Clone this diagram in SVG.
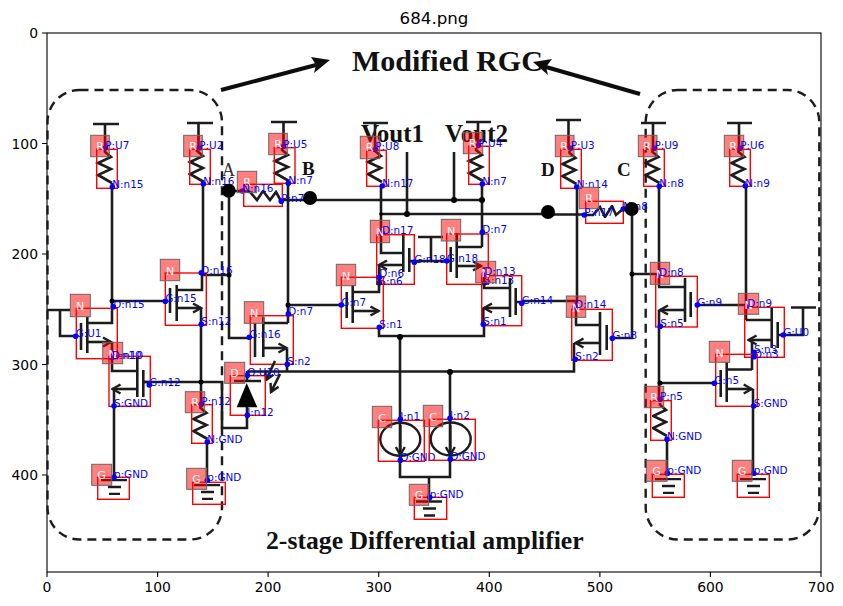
<svg xmlns="http://www.w3.org/2000/svg" width="843" height="606" viewBox="0 0 843 606">
<style>
.w path,.a path{fill:none;stroke:#1c1c1c;stroke-width:2.6}
.a .f{fill:#000;stroke:none}
.a .v{marker-end:url(#ah)}
.b{fill:none;stroke:#f00;stroke-width:1.4}
.s{fill:#f00;fill-opacity:.5;stroke:#666;stroke-width:1}
.l{font:11px "DejaVu Sans",sans-serif;fill:#fff;text-anchor:middle}
.t{font:10.4px "DejaVu Sans",sans-serif;fill:#00f}
.d{fill:#00f}
.tk{font:13.9px "DejaVu Sans",sans-serif;fill:#000}
.ser{font-family:"Liberation Serif",serif;font-weight:bold;fill:#111}
</style>
<defs>
<filter id="bl" x="-5%" y="-5%" width="110%" height="110%"><feGaussianBlur stdDeviation="0.45"/></filter>
<marker id="ah" markerUnits="userSpaceOnUse" viewBox="-10 -6 12 12" refX="0" refY="0" markerWidth="12" markerHeight="12" orient="auto"><path d="M-8,-4.5L0,0L-8,4.5" fill="none" stroke="#1c1c1c" stroke-width="2.4"/></marker>
<path id="zig" d="M0,0V2L6,7L-7,13L6,19L-7,25L7,33"/>
<path id="gnd" d="M-13,0H13M-6,7H7M-5,14H6"/>
</defs>
<rect width="843" height="606" fill="#fff"/>

<g id="frame" fill="none" stroke="#000" stroke-width="1.1">
<rect x="47" y="33" width="774" height="539"/>
<path d="M47 572v5M157.6 572v5M268.1 572v5M378.7 572v5M489.3 572v5M599.9 572v5M710.4 572v5M821 572v5M47 33h-5M47 143.5h-5M47 254h-5M47 364.5h-5M47 475h-5"/>
</g>
<g id="ticks" class="tk">
<text x="47" y="592" text-anchor="middle">0</text><text x="157.6" y="592" text-anchor="middle">100</text><text x="268.1" y="592" text-anchor="middle">200</text><text x="378.7" y="592" text-anchor="middle">300</text><text x="489.3" y="592" text-anchor="middle">400</text><text x="599.9" y="592" text-anchor="middle">500</text><text x="710.4" y="592" text-anchor="middle">600</text><text x="821" y="592" text-anchor="middle">700</text>
<text x="38" y="38" text-anchor="end">0</text><text x="38" y="148.5" text-anchor="end">100</text><text x="38" y="259" text-anchor="end">200</text><text x="38" y="369.5" text-anchor="end">300</text><text x="38" y="480" text-anchor="end">400</text>
</g>
<text x="434" y="24" text-anchor="middle" style="font:16.67px 'DejaVu Sans',sans-serif" fill="#000">684.png</text>

<g id="picture-text" class="ser">
<text x="352" y="71" font-size="30">Modified RGC</text>
<text x="266" y="549" font-size="25.7">2-stage Differential amplifier</text>
<text x="361" y="142" font-size="25">Vout1</text>
<text x="445" y="142" font-size="25">Vout2</text>
<text x="222" y="176" font-size="18" font-weight="normal" fill="#333">A</text>
<text x="302" y="175" font-size="19">B</text>
<text x="541" y="176" font-size="19">D</text>
<text x="617" y="176" font-size="19">C</text>
</g>

<g id="dashed" filter="url(#bl)" fill="none" stroke="#1c1c1c" stroke-width="2.4" stroke-dasharray="9 6">
<rect x="47.5" y="90" width="174.500" height="449.500" rx="32"/>
<rect x="645.7" y="90" width="173.600" height="449.500" rx="32"/>
</g>
<g id="big-arrows" filter="url(#bl)">
<path d="M221 90L316 65" stroke="#111" stroke-width="4" fill="none"/><path d="M330 60L311 57L316 65L314 73Z" fill="#111"/>
<path d="M640 94L546 67" stroke="#111" stroke-width="4" fill="none"/><path d="M533 62L552 59L546 67L548 75Z" fill="#111"/>
</g>

<g id="connectors" class="w" filter="url(#bl)">
<path d="M112 183V301M112 301H165M112 301V307"/>
<path d="M47 310H70M60 310V336H76"/>
<path d="M203 182V275M202 275H229"/>
<path d="M229 191V338H250M229 191H243"/>
<path d="M288 183V323M288 305H341"/>
<path d="M281 200H482M381 186V214M381 214H548M407 152V214M454 152V200M482 184V247"/>
<path d="M548 214.500H585"/>
<path d="M577 187V301H522M576 301V325"/>
<path d="M632 209V338H612M632 274H659"/>
<path d="M659 186V287M659 310V400"/>
<path d="M746 186V320M697 305H746"/>
<path d="M660 383H715"/>
<path d="M201 308V404M143 382H222V428H247V416"/>
<path d="M247 371.500H574V343M287 349V372"/>
<path d="M379 327V336H484V324M400 337V460M450 372V460M400 460V477H450V460M429 477V501"/>
<path d="M114 389V478M207 442V481M667 439V474M753 389V474"/>
<path d="M752 340V370"/>
</g>

<g id="r_u7"><g class="a" filter="url(#bl)"><path d="M93 124H119M105 124V150"/><use href="#zig" x="105" y="150" fill="none" stroke="#1c1c1c" stroke-width="2.6"/></g><rect class="b" x="96.700" y="149.300" width="20.600" height="39"/><circle class="d" cx="105.300" cy="148" r="2.800"/><circle class="d" cx="112.300" cy="187" r="2.800"/><rect class="s" x="90.700" y="135.300" width="18.600" height="21.400"/><text class="l" x="100" y="150">R</text><text class="t" x="105.300" y="149">P:U7</text><text class="t" x="112.300" y="188.300">N:n15</text></g>
<g id="r_u2"><g class="a" filter="url(#bl)"><path d="M187 123H213M198.500 123V149"/><use href="#zig" x="197" y="149" fill="none" stroke="#1c1c1c" stroke-width="2.6"/></g><rect class="b" x="189.700" y="149.300" width="20.600" height="35"/><circle class="d" cx="199.300" cy="148" r="2.800"/><circle class="d" cx="203.300" cy="184" r="2.800"/><rect class="s" x="183.700" y="135.300" width="18.600" height="21.400"/><text class="l" x="193" y="150">R</text><text class="t" x="199.300" y="149">P:U2</text><text class="t" x="203.300" y="185">N:n16</text></g>
<g id="r_u5"><g class="a" filter="url(#bl)"><path d="M271 122H297M283.500 122V148"/><use href="#zig" x="282" y="148" fill="none" stroke="#1c1c1c" stroke-width="2.6"/></g><rect class="b" x="274.300" y="147.700" width="20.700" height="35.600"/><circle class="d" cx="283.300" cy="146.500" r="2.800"/><circle class="d" cx="288.300" cy="183.300" r="2.800"/><rect class="s" x="268.700" y="133.300" width="18.600" height="21.400"/><text class="l" x="278" y="148">R</text><text class="t" x="283.300" y="147.500">P:U5</text><text class="t" x="288.300" y="184.300">N:n7</text></g>
<g id="r_n16"><g class="a" filter="url(#bl)"><path d="M243 191L250 192L257 200L263 191L270 200L276 192L281 201"/></g><rect class="b" x="243.700" y="184.300" width="38.600" height="22"/><circle class="d" cx="242.300" cy="191" r="2.800"/><circle class="d" cx="281.300" cy="201.300" r="2.800"/><rect class="s" x="237.300" y="171.300" width="19.400" height="21.400"/><text class="l" x="247" y="186">R</text><text class="t" x="242.300" y="192">N:n16</text><text class="t" x="281.300" y="202.300">P:n7</text></g>
<g id="r_u8"><g class="a" filter="url(#bl)"><path d="M363 123H388M375 123V149"/><use href="#zig" x="375" y="149" fill="none" stroke="#1c1c1c" stroke-width="2.6"/></g><rect class="b" x="366.700" y="150.300" width="19.600" height="36"/><circle class="d" cx="375.300" cy="149.500" r="2.800"/><circle class="d" cx="382.300" cy="186" r="2.800"/><rect class="s" x="360.300" y="136.300" width="19.400" height="22.400"/><text class="l" x="369.500" y="151">R</text><text class="t" x="375.300" y="150">P:U8</text><text class="t" x="382.300" y="187">N:n17</text></g>
<g id="r_u4"><g class="a" filter="url(#bl)"><path d="M466 122H491M478 122V148"/><use href="#zig" x="476" y="148" fill="none" stroke="#1c1c1c" stroke-width="2.6"/></g><rect class="b" x="468.700" y="146.300" width="20.600" height="38"/><circle class="d" cx="478.300" cy="145.500" r="2.800"/><circle class="d" cx="482.300" cy="184" r="2.800"/><rect class="s" x="463.300" y="132.300" width="19.400" height="21.400"/><text class="l" x="472.500" y="147">R</text><text class="t" x="478.300" y="146.500">P:U4</text><text class="t" x="482.300" y="185">N:n7</text></g>
<g id="r_u3"><g class="a" filter="url(#bl)"><path d="M556 120H581M568.500 120V150"/><use href="#zig" x="569.500" y="151" fill="none" stroke="#1c1c1c" stroke-width="2.6"/></g><rect class="b" x="560.700" y="149.300" width="20.600" height="39"/><circle class="d" cx="570.700" cy="148.300" r="2.800"/><circle class="d" cx="576.700" cy="187" r="2.800"/><rect class="s" x="555.300" y="135.300" width="18.700" height="21.400"/><text class="l" x="564" y="150">R</text><text class="t" x="570.700" y="149">P:U3</text><text class="t" x="576.700" y="188">N:n14</text></g>
<g id="r_u9"><g class="a" filter="url(#bl)"><path d="M641 123H666M653 123V150"/><use href="#zig" x="652.500" y="150" fill="none" stroke="#1c1c1c" stroke-width="2.6"/></g><rect class="b" x="643.700" y="149.300" width="20.600" height="37"/><circle class="d" cx="654.500" cy="148.300" r="2.800"/><circle class="d" cx="659.300" cy="186.300" r="2.800"/><rect class="s" x="638.300" y="135.300" width="18.700" height="21.400"/><text class="l" x="647" y="150">R</text><text class="t" x="654.500" y="149">P:U9</text><text class="t" x="659.300" y="187.300">N:n8</text></g>
<g id="r_u6"><g class="a" filter="url(#bl)"><path d="M727 123H752M739 123V150"/><use href="#zig" x="738.500" y="150" fill="none" stroke="#1c1c1c" stroke-width="2.6"/></g><rect class="b" x="729.700" y="149.300" width="20.600" height="37"/><circle class="d" cx="740.300" cy="148.300" r="2.800"/><circle class="d" cx="745.300" cy="186" r="2.800"/><rect class="s" x="724.300" y="135.300" width="19.400" height="21.400"/><text class="l" x="733" y="150">R</text><text class="t" x="740.300" y="149">P:U6</text><text class="t" x="745.300" y="187">N:n9</text></g>
<g id="r_n17"><g class="a" filter="url(#bl)"><path d="M584 215L593 215L600 207L605 217L612 206L616 215L623 209"/></g><rect class="b" x="585.700" y="201.300" width="37.600" height="22"/><circle class="d" cx="584.300" cy="215" r="2.800"/><circle class="d" cx="623.300" cy="209" r="2.800"/><rect class="s" x="579.300" y="187.300" width="19.400" height="21.400"/><text class="l" x="589" y="202">R</text><text class="t" x="584.300" y="216">P:n17</text><text class="t" x="623.300" y="210">N:n8</text></g>
<g id="r_n12"><g class="a" filter="url(#bl)"><use href="#zig" x="200.500" y="406" fill="none" stroke="#1c1c1c" stroke-width="2.6"/></g><rect class="b" x="191.700" y="404.700" width="20.600" height="38.600"/><circle class="d" cx="201.300" cy="404.300" r="2.800"/><circle class="d" cx="207.300" cy="442" r="2.800"/><rect class="s" x="185.300" y="391.700" width="19.400" height="21"/><text class="l" x="195" y="406">R</text><text class="t" x="201.300" y="405.300">P:n12</text><text class="t" x="207.300" y="443">N:GND</text></g>
<g id="r_n5"><g class="a" filter="url(#bl)"><use href="#zig" x="660" y="403" fill="none" stroke="#1c1c1c" stroke-width="2.6"/></g><rect class="b" x="650.700" y="400.700" width="20.600" height="39.600"/><circle class="d" cx="660" cy="399.300" r="2.800"/><circle class="d" cx="667" cy="439.300" r="2.800"/><rect class="s" x="644.300" y="386.300" width="19.400" height="21.400"/><text class="l" x="654" y="401">R</text><text class="t" x="660" y="400.300">P:n5</text><text class="t" x="667" y="440.300">N:GND</text></g>

<g id="t_n15a"><g class="a" filter="url(#bl)"><path d="M81 323V350M87.300 317V353M87 323H112V308"/><path class="v" d="M87 342H111"/><path d="M112 342V357"/></g><rect class="b" x="76.300" y="308.300" width="41" height="50.400"/><circle class="d" cx="113.300" cy="306.700" r="2.800"/><circle class="d" cx="75.700" cy="336.300" r="2.800"/><circle class="d" cx="111.700" cy="357.300" r="2.800"/><rect class="s" x="70.300" y="294.300" width="20" height="22.400"/><text class="l" x="80" y="309.500">N</text><text class="t" x="113.300" y="308">D:n15</text><text class="t" x="75.700" y="337.300">G:U1</text><text class="t" x="111.700" y="358.500">S:n10</text></g>
<g id="t_n15b"><g class="a" filter="url(#bl)"><path d="M170 288V313M176.700 285V321M176.700 290H202V275"/><path class="v" d="M176.700 308H201"/></g><rect class="b" x="165.300" y="273" width="41" height="52.300"/><circle class="d" cx="201.300" cy="272.700" r="2.800"/><circle class="d" cx="165.300" cy="301.300" r="2.800"/><circle class="d" cx="201.300" cy="324.300" r="2.800"/><rect class="s" x="160.300" y="259.300" width="19.400" height="21.400"/><text class="l" x="170" y="274.500">N</text><text class="t" x="201.300" y="273.700">D:n16</text><text class="t" x="165.300" y="302.300">G:n15</text><text class="t" x="201.300" y="325.300">S:n12</text></g>
<g id="t_n16"><g class="a" filter="url(#bl)"><path d="M255 323V357M263.300 317V357M263.300 323H288"/><path class="v" d="M263.300 348H286.500"/></g><rect class="b" x="250.300" y="315.700" width="43" height="48.600"/><circle class="d" cx="288.300" cy="314" r="2.800"/><circle class="d" cx="249.300" cy="337.300" r="2.800"/><circle class="d" cx="287.300" cy="364.300" r="2.800"/><rect class="s" x="244.300" y="301.700" width="19.400" height="21.600"/><text class="l" x="254" y="317">N</text><text class="t" x="288.300" y="315">D:n7</text><text class="t" x="249.300" y="338.300">G:n16</text><text class="t" x="287.300" y="365.300">S:n2</text></g>
<g id="t_n10"><g class="a" filter="url(#bl)"><path d="M112 357V371H137M137.300 357V397M143.300 370V397M143.300 382H150"/><path class="v" d="M137 389H112.500"/></g><rect class="b" x="109" y="356.300" width="41.300" height="50"/><circle class="d" cx="111.700" cy="357.300" r="2.800"/><circle class="d" cx="149.300" cy="385" r="2.800"/><circle class="d" cx="114" cy="406" r="2.800"/><rect class="s" x="102.700" y="342.300" width="20" height="21.400"/><text class="l" x="112.500" y="357.500">N</text><text class="t" x="111.700" y="358.500">D:n10</text><text class="t" x="149.300" y="386">G:n12</text><text class="t" x="114" y="407">S:GND</text></g>
<g id="d_u10"><g class="a" filter="url(#bl)"><path d="M234 381H261M247 371V381M247 407V416"/><path class="f" d="M246.700 383L257.300 407.300H236.700Z"/><path class="v" d="M275 361L266 380"/><path class="v" d="M280 374L271 392"/></g><rect class="b" x="230.300" y="375.700" width="35" height="39.600"/><circle class="d" cx="247.300" cy="375.300" r="2.800"/><circle class="d" cx="247.300" cy="415.300" r="2.800"/><rect class="s" x="224.700" y="362.300" width="20" height="21"/><text class="l" x="234.500" y="376.500">D</text><text class="t" x="247.300" y="376.300">O:U10</text><text class="t" x="247.300" y="416.300">I:n12</text></g>
<g id="t_n17"><g class="a" filter="url(#bl)"><path d="M381 214V253H403.300M403.300 235V272M409.300 248V272M409 261H447M431 261V237M418 237H443"/><path class="v" d="M403 265H379"/><path d="M379.300 265V283"/></g><rect class="b" x="376.700" y="234.700" width="37.600" height="49.600"/><circle class="d" cx="382" cy="233" r="2.800"/><circle class="d" cx="414.300" cy="262.300" r="2.800"/><circle class="d" cx="379.300" cy="283" r="2.800"/><rect class="s" x="370.300" y="220.300" width="19.400" height="22.400"/><text class="l" x="380" y="236">N</text><text class="t" x="382" y="234">D:n17</text><text class="t" x="414.300" y="263.300">G:n18</text><text class="t" x="379.300" y="285">S:n6</text></g>
<g id="t_n18"><g class="a" filter="url(#bl)"><path d="M450.700 247V272M456.700 233V278M456.700 247H482"/><path class="v" d="M456.700 266H481"/><path d="M484 267V283"/></g><rect class="b" x="446.700" y="234" width="41.600" height="50.300"/><circle class="d" cx="482.300" cy="232.300" r="2.800"/><circle class="d" cx="446.700" cy="261" r="2.800"/><circle class="d" cx="484.300" cy="283" r="2.800"/><rect class="s" x="441.300" y="219.300" width="19.400" height="21.700"/><text class="l" x="451" y="235">N</text><text class="t" x="482.300" y="233.300">D:n7</text><text class="t" x="446.700" y="262">G:n18</text><text class="t" x="484.300" y="284">S:n13</text></g>
<g id="t_n7"><g class="a" filter="url(#bl)"><path d="M346.700 292V318M352.700 285V323M352.700 292H379V277"/><path class="v" d="M352.700 311H378.500"/></g><rect class="b" x="341.300" y="277.300" width="42" height="51"/><circle class="d" cx="379.300" cy="277.300" r="2.800"/><circle class="d" cx="341.300" cy="305" r="2.800"/><circle class="d" cx="379.300" cy="327.300" r="2.800"/><rect class="s" x="336.300" y="264.300" width="19.400" height="21.400"/><text class="l" x="346" y="279.500">N</text><text class="t" x="379.300" y="277">D:n6</text><text class="t" x="341.300" y="306">G:n7</text><text class="t" x="379.300" y="328.300">S:n1</text></g>
<g id="t_n14"><g class="a" filter="url(#bl)"><path d="M484 283V288H510M510 278V317M515.700 288V315M516 302H522"/><path class="v" d="M510 308H484"/><path d="M483.300 308V324"/></g><rect class="b" x="481.700" y="275.700" width="40" height="50"/><circle class="d" cx="484.300" cy="274" r="2.800"/><circle class="d" cx="521.700" cy="303.300" r="2.800"/><circle class="d" cx="483.300" cy="324.300" r="2.800"/><rect class="s" x="475.700" y="261.300" width="20" height="21.400"/><text class="l" x="485.500" y="276.500">N</text><text class="t" x="484.300" y="275">D:n13</text><text class="t" x="521.700" y="304.300">G:n14</text><text class="t" x="483.300" y="325.300">S:n1</text></g>
<g id="t_n8b"><g class="a" filter="url(#bl)"><path d="M575 325H600M600 312V355M606.700 325V350"/><path class="v" d="M600 343H575.500"/></g><rect class="b" x="571.700" y="309.300" width="40.600" height="51"/><circle class="d" cx="575" cy="307" r="2.800"/><circle class="d" cx="612.300" cy="338.300" r="2.800"/><circle class="d" cx="575.300" cy="359.300" r="2.800"/><rect class="s" x="566.300" y="296" width="19.400" height="21.300"/><text class="l" x="576" y="311.500">N</text><text class="t" x="575" y="308">D:n14</text><text class="t" x="612.300" y="339.300">G:n8</text><text class="t" x="575.300" y="360.300">S:n2</text></g>
<g id="t_n9"><g class="a" filter="url(#bl)"><path d="M658 287H685M685 278V322M690.700 292V317"/><path class="v" d="M685 310H660"/></g><rect class="b" x="655.700" y="276.300" width="41.600" height="50.700"/><circle class="d" cx="659" cy="275" r="2.800"/><circle class="d" cx="697.300" cy="305" r="2.800"/><circle class="d" cx="660.300" cy="326.300" r="2.800"/><rect class="s" x="650.300" y="262.300" width="19.400" height="22"/><text class="l" x="660" y="278">N</text><text class="t" x="659" y="276">D:n8</text><text class="t" x="697.300" y="306">G:n9</text><text class="t" x="660.300" y="327.300">S:n5</text></g>
<g id="t_u0"><g class="a" filter="url(#bl)"><path d="M746 320H771.700M771.700 308V348M777.700 322V348M778 335H803V307M791 307.500H816"/><path class="v" d="M771.700 340H748.500"/></g><rect class="b" x="744.700" y="307.300" width="39.600" height="50"/><circle class="d" cx="747.300" cy="306" r="2.800"/><circle class="d" cx="783.300" cy="335" r="2.800"/><circle class="d" cx="754" cy="352.300" r="2.800"/><rect class="s" x="738.300" y="293.300" width="20.400" height="21"/><text class="l" x="748.500" y="308.500">N</text><text class="t" x="747.300" y="307">D:n9</text><text class="t" x="783.300" y="336">G:U0</text><text class="t" x="754" y="353.300">S:n3</text></g>
<g id="t_n5"><g class="a" filter="url(#bl)"><path d="M752 369.500H726.700M726.700 362V402M720.700 370V397"/><path class="v" d="M726.700 389H751.700"/></g><rect class="b" x="715.700" y="354.300" width="41.600" height="52"/><circle class="d" cx="754" cy="356.700" r="2.800"/><circle class="d" cx="714.300" cy="383.300" r="2.800"/><circle class="d" cx="753.700" cy="406" r="2.800"/><rect class="s" x="709.300" y="341.300" width="20.400" height="21"/><text class="l" x="719.500" y="356.500">N</text><text class="t" x="754" y="357.700">D:n3</text><text class="t" x="714.300" y="384.300">G:n5</text><text class="t" x="753.700" y="407">S:GND</text></g>

<g id="c_n1"><g class="a" filter="url(#bl)"><ellipse cx="400.300" cy="439.300" rx="20" ry="16.500" fill="none" stroke="#1c1c1c" stroke-width="2.400"/><path class="v" d="M400.300 425V455"/></g><rect class="b" x="378.300" y="420.300" width="46" height="41"/><circle class="d" cx="400.300" cy="419.300" r="2.800"/><circle class="d" cx="400.300" cy="460.300" r="2.800"/><rect class="s" x="372.300" y="406.300" width="19.400" height="21.400"/><text class="l" x="382" y="421.500">C</text><text class="t" x="400.300" y="420.300">I:n1</text><text class="t" x="400.300" y="461.300">O:GND</text></g>
<g id="c_n2"><g class="a" filter="url(#bl)"><ellipse cx="450.700" cy="439" rx="20" ry="16.500" fill="none" stroke="#1c1c1c" stroke-width="2.400"/><path class="v" d="M450.300 425V455"/></g><rect class="b" x="429.300" y="419.300" width="46" height="41"/><circle class="d" cx="450" cy="418.300" r="2.800"/><circle class="d" cx="450.300" cy="459.300" r="2.800"/><rect class="s" x="423.300" y="405.300" width="19.400" height="21.400"/><text class="l" x="433" y="420.500">C</text><text class="t" x="450" y="419.300">I:n2</text><text class="t" x="450.300" y="460.300">O:GND</text></g>

<g id="g_1"><g class="a" filter="url(#bl)"><use href="#gnd" x="114" y="480" fill="none" stroke="#1c1c1c" stroke-width="2.400"/></g><rect class="b" x="97.700" y="477.300" width="31.600" height="22"/><circle class="d" cx="114" cy="477.300" r="2.800"/><rect class="s" x="91.700" y="464.300" width="20" height="21"/><text class="l" x="101.500" y="479">G</text><text class="t" x="114" y="478.300">p:GND</text></g>
<g id="g_2"><g class="a" filter="url(#bl)"><use href="#gnd" x="207" y="485" fill="none" stroke="#1c1c1c" stroke-width="2.400"/></g><rect class="b" x="192.700" y="482.300" width="32.600" height="22"/><circle class="d" cx="207.300" cy="480.300" r="2.800"/><rect class="s" x="186.700" y="468.300" width="20" height="21"/><text class="l" x="196.500" y="483">G</text><text class="t" x="207.300" y="481.300">p:GND</text></g>
<g id="g_3"><g class="a" filter="url(#bl)"><use href="#gnd" x="429" y="501.500" fill="none" stroke="#1c1c1c" stroke-width="2.400"/></g><rect class="b" x="414.300" y="497.300" width="32.400" height="22"/><circle class="d" cx="429.700" cy="497.300" r="2.800"/><rect class="s" x="409.300" y="484.300" width="19.400" height="21"/><text class="l" x="419" y="499">G</text><text class="t" x="429.700" y="498.300">p:GND</text></g>
<g id="g_4"><g class="a" filter="url(#bl)"><use href="#gnd" x="668" y="479" fill="none" stroke="#1c1c1c" stroke-width="2.400"/></g><rect class="b" x="652.300" y="474.300" width="32" height="23"/><circle class="d" cx="667.300" cy="473.300" r="2.800"/><rect class="s" x="646.300" y="460.300" width="20.700" height="21"/><text class="l" x="656.500" y="475">G</text><text class="t" x="667.300" y="474.300">p:GND</text></g>
<g id="g_5"><g class="a" filter="url(#bl)"><use href="#gnd" x="753" y="479" fill="none" stroke="#1c1c1c" stroke-width="2.400"/></g><rect class="b" x="737.300" y="474.300" width="32" height="23"/><circle class="d" cx="753.700" cy="473.300" r="2.800"/><rect class="s" x="732.300" y="460.300" width="19.700" height="21"/><text class="l" x="742" y="475">G</text><text class="t" x="753.700" y="474.300">p:GND</text></g>

<g id="junctions" filter="url(#bl)" fill="#000">
<circle cx="228.700" cy="190.700" r="7"/><circle cx="310" cy="198" r="7"/><circle cx="548" cy="212" r="7"/><circle cx="631.700" cy="209" r="7"/>
<circle cx="112" cy="301" r="2.500"/><circle cx="229" cy="275" r="2.500"/><circle cx="288" cy="305" r="2.500"/><circle cx="407" cy="214" r="3"/><circle cx="454" cy="200" r="3"/><circle cx="482" cy="200" r="3"/><circle cx="381" cy="214" r="1.800"/><circle cx="632" cy="274" r="2.500"/><circle cx="201" cy="382" r="2.500"/><circle cx="660" cy="383" r="2.500"/><circle cx="400" cy="337" r="3"/><circle cx="450" cy="372" r="3"/>
</g>
</svg>
